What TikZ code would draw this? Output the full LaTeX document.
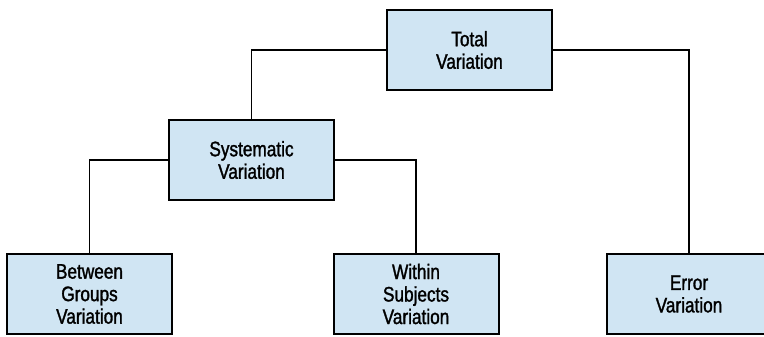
\documentclass[tikz,border=0pt]{standalone}
\usepackage{fontspec}
\setmainfont{Liberation Sans}[FakeStretch=0.82, FakeBold=1.4]
\definecolor{boxblue}{RGB}{208,229,243}

\begin{document}
\begin{tikzpicture}[x=1pt, y=-1pt,
    varbox/.style={draw=black, line width=2pt, fill=boxblue, rectangle,
        minimum width=165pt, minimum height=80pt, align=center,
        font=\fontsize{21}{22.5}\selectfont},
    link/.style={line width=1.2pt}]
    \useasboundingbox (0,0) rectangle (764,337);

    \node[varbox] (total) at (469.5,50) {Total\\Variation};
    \node[varbox] (syst) at (251.5,160) {Systematic\\Variation};
    \node[varbox] (betw) at (89.5,294) {Between\\Groups\\Variation};
    \node[varbox] (within) at (416,294) {Within\\Subjects\\Variation};
    \node[varbox] (error) at (689,294) {Error\\Variation};

    \draw[link] (total.west) -| (syst.north);
    \draw[link] (total.east) -| (error.north);
    \draw[link] (syst.west) -| (betw.north);
    \draw[link] (syst.east) -| (within.north);
\end{tikzpicture}
\end{document}
